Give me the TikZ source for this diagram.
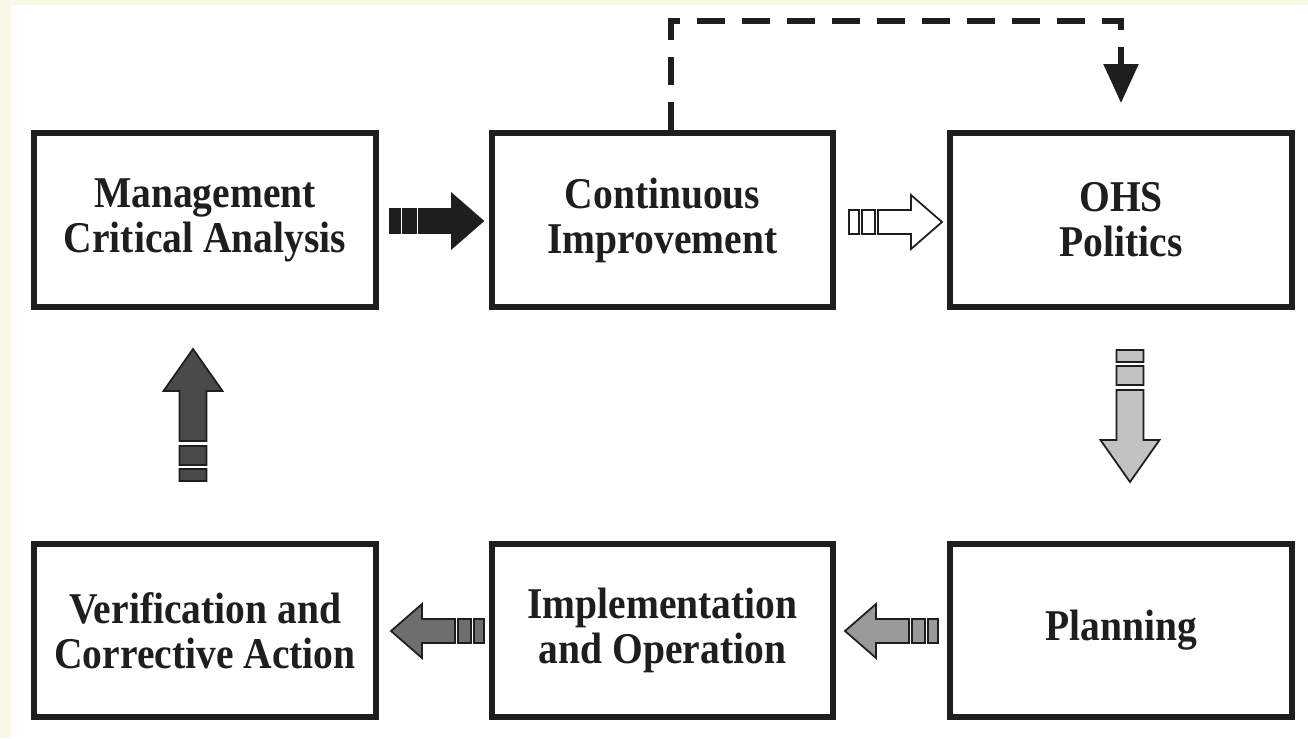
\documentclass[tikz,border=0pt]{standalone}
\usepackage{fontspec}
\newfontfamily\boxfont[FakeStretch=0.9]{Liberation Serif}
\usetikzlibrary{arrows.meta}
\definecolor{cream}{HTML}{F9F7E5}
\definecolor{ink}{HTML}{1E1E1E}
% block arrows, drawn round (0,0) in pixel units
\def\tailone{(-46,-12) rectangle (-36,12)}
\def\tailtwo{(-33,-12) rectangle (-20,12)}
\def\shortarrow{(-17,-12) -- (16,-12) -- (16,-27) -- (47,0) -- (16,27) -- (16,12) -- (-17,12) -- cycle}
\def\tailthree{(-13.5,-66) rectangle (13.5,-54)}
\def\tailfour{(-13.5,-50) rectangle (13.5,-31)}
\def\longarrow{(-13.5,-26) -- (-13.5,24) -- (-29.5,24) -- (0,66) -- (29.5,24) -- (13.5,24) -- (13.5,-26) -- cycle}
\tikzset{
  stage/.style={draw=ink, line width=0.12cm, minimum width=6.84cm, minimum height=3.48cm,
    inner sep=0pt, align=center, text=ink, font=\boxfont\bfseries\fontsize{25}{25.6}\selectfont},
  blockarrow/.style={draw=ink, line width=0.035cm, fill=#1},
  loopback/.style={draw=ink, line width=0.11cm, dash pattern=on 0.56cm off 0.34cm,
    -{Triangle[length=0.78cm,width=0.68cm]}, shorten >=0.54cm}
}

\begin{document}
\begin{tikzpicture}[x=0.02cm, y=-0.02cm]
  \useasboundingbox (0,0) rectangle (1308,738);
  \fill[cream] (0,0) rectangle (1308,738);
  \fill[white] (11,5) rectangle (1308,738);

  % the six stages
  \node[stage] (mca) at (205,220) {Management\\Critical Analysis};
  \node[stage] (ci) at (662.5,220) {Continuous\\Improvement};
  \node[stage] (ohs) at (1121,220) {OHS\\Politics};
  \node[stage] (vca) at (205,630.5) {Verification and\\Corrective Action};
  \node[stage] (io) at (662.5,630.5) {Implementation\\and Operation};
  \node[stage] (plan) at (1121,630.5) {Planning};

  % dashed feedback line
  \draw[loopback] ([xshift=0.17cm]ci.north) -- ++(0,-109) -| (ohs.north);

  % shaded arrows between the stages
  \begin{scope}[shift={(436,221)}]
    \filldraw[blockarrow=ink] \tailone \tailtwo \shortarrow;
  \end{scope}
  \begin{scope}[shift={(895,222)}]
    \filldraw[blockarrow=white] \tailone \tailtwo \shortarrow;
  \end{scope}
  \begin{scope}[shift={(1130,416)}]
    \filldraw[blockarrow=black!24] \tailthree \tailfour \longarrow;
  \end{scope}
  \begin{scope}[shift={(892,631)}, xscale=-1]
    \filldraw[blockarrow=black!40] \tailone \tailtwo \shortarrow;
  \end{scope}
  \begin{scope}[shift={(438,631)}, xscale=-1]
    \filldraw[blockarrow=black!57] \tailone \tailtwo \shortarrow;
  \end{scope}
  \begin{scope}[shift={(193,415)}, yscale=-1]
    \filldraw[blockarrow=black!71] \tailthree \tailfour \longarrow;
  \end{scope}
\end{tikzpicture}
\end{document}
